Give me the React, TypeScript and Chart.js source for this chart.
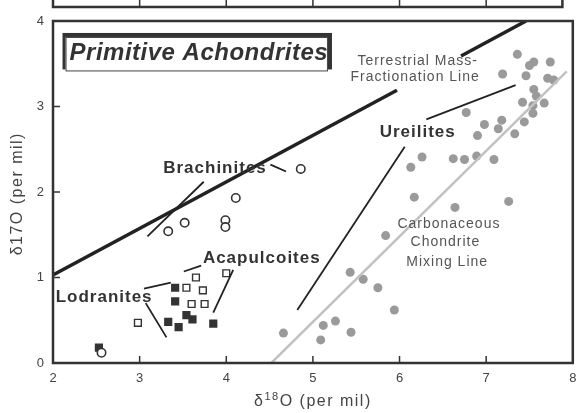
import React, { useEffect, useRef } from 'react';
import { Chart, registerables } from 'chart.js';

Chart.register(...registerables);

// ---------- data ----------
const xTicks = [2, 3, 4, 5, 6, 7, 8];
const yTicks = [0, 1, 2, 3, 4];
const innerXTicks = [3, 4, 5, 6, 7];
const innerYTicks = [1, 2, 3];

const ureilites: [number, number][] = [
  [7.36, 3.61], [7.5, 3.48], [7.55, 3.52], [7.74, 3.52], [7.19, 3.38], [7.46, 3.36],
  [7.71, 3.33], [7.78, 3.31], [7.55, 3.2], [7.58, 3.12], [7.42, 3.05], [7.54, 3.01],
  [7.67, 3.04], [7.54, 2.92], [7.44, 2.82], [7.18, 2.84], [7.14, 2.74], [6.98, 2.79],
  [7.33, 2.68], [6.9, 2.66], [6.77, 2.93], [6.26, 2.41], [6.13, 2.29], [6.62, 2.39],
  [6.75, 2.38], [6.89, 2.42], [7.09, 2.38], [6.17, 1.94], [6.64, 1.82], [7.26, 1.89],
  [5.84, 1.49], [5.43, 1.06], [5.58, 0.98], [5.75, 0.88], [5.94, 0.62], [5.26, 0.49],
  [5.12, 0.44], [5.44, 0.36], [5.09, 0.27], [4.66, 0.35],
];

const brachinites: [number, number][] = [
  [3.33, 1.54], [3.52, 1.64], [3.99, 1.67], [3.99, 1.59], [4.11, 1.93], [4.86, 2.27], [2.56, 0.12],
];

const lodranites: [number, number][] = [
  [3.41, 0.88], [3.41, 0.72], [3.33, 0.48], [3.45, 0.42], [3.54, 0.56], [3.61, 0.51],
  [3.85, 0.46], [2.53, 0.18],
];

const acapulcoites: [number, number][] = [
  [2.98, 0.47], [3.54, 0.88], [3.65, 1.0], [3.73, 0.85], [3.6, 0.69], [3.75, 0.69], [4.0, 1.05],
];

// reference lines (data coordinates)
const tflLower: [number, number][] = [[2, 1.03], [5.97, 3.19]];
const tflUpper: [number, number][] = [[6.71, 3.59], [7.46, 4.0]];
const ccml: [number, number][] = [[4.52, 0], [7.93, 3.41]];

// leader lines
const leaders: [number, number][][] = [
  [[6.31, 2.85], [7.34, 3.25]],
  [[6.06, 2.53], [4.82, 0.62]],
  [[4.51, 2.32], [4.69, 2.24]],
  [[3.74, 2.12], [3.09, 1.48]],
  [[3.05, 0.87], [3.36, 0.94]],
  [[3.07, 0.7], [3.31, 0.3]],
  [[3.51, 1.07], [3.71, 1.14]],
  [[4.08, 1.09], [3.85, 0.59]],
];

// annotation labels [text, x, y]
const boldLabels: [string, number, number][] = [
  ['Ureilites', 6.21, 2.7],
  ['Brachinites', 3.87, 2.28],
  ['Acapulcoites', 4.41, 1.23],
  ['Lodranites', 2.59, 0.77],
];
const lightLabels: [string, number, number][] = [
  ['Terrestrial Mass-', 6.21, 3.53],
  ['Fractionation Line', 6.18, 3.34],
  ['Carbonaceous', 6.57, 1.62],
  ['Chondrite', 6.53, 1.41],
  ['Mixing Line', 6.55, 1.18],
];
const titleText = 'Primitive Achondrites';

const FONT = '"Liberation Sans", Arial, sans-serif';

const toPts = (arr: [number, number][]) => arr.map(([x, y]) => ({ x, y }));

const decorPlugin = {
  id: 'decor',
  afterDatasetsDraw(chart: any) {
    const { ctx, chartArea: a, scales } = chart;
    const xs = scales.x;
    const ys = scales.y;
    ctx.save();

    // frame
    ctx.strokeStyle = '#333';
    ctx.lineWidth = 2.5;
    ctx.strokeRect(a.left, a.top, a.right - a.left, a.bottom - a.top);

    // inner ticks
    ctx.lineWidth = 1.5;
    ctx.beginPath();
    innerXTicks.forEach((v) => {
      const px = xs.getPixelForValue(v);
      ctx.moveTo(px, a.bottom);
      ctx.lineTo(px, a.bottom - 7);
    });
    innerYTicks.forEach((v) => {
      const py = ys.getPixelForValue(v);
      ctx.moveTo(a.left, py);
      ctx.lineTo(a.left + 7, py);
    });
    ctx.stroke();

    // remnant of panel above
    ctx.lineWidth = 2.5;
    const topBottom = 7;
    const rightEdge = xs.getPixelForValue(7.88);
    ctx.beginPath();
    ctx.moveTo(a.left, -2);
    ctx.lineTo(a.left, topBottom);
    ctx.lineTo(rightEdge, topBottom);
    ctx.lineTo(rightEdge, -2);
    ctx.stroke();
    ctx.lineWidth = 1.5;
    ctx.beginPath();
    innerXTicks.forEach((v) => {
      const px = xs.getPixelForValue(v);
      ctx.moveTo(px, -2);
      ctx.lineTo(px, topBottom);
    });
    ctx.stroke();

    // annotation labels
    ctx.textAlign = 'center';
    ctx.textBaseline = 'middle';
    ctx.fillStyle = '#333';
    ctx.font = `bold 17px ${FONT}`;
    ctx.letterSpacing = '1px';
    boldLabels.forEach(([t, x, y]) => {
      ctx.fillText(t, xs.getPixelForValue(x), ys.getPixelForValue(y));
    });
    ctx.fillStyle = '#555';
    ctx.font = `14px ${FONT}`;
    ctx.letterSpacing = '1px';
    lightLabels.forEach(([t, x, y]) => {
      ctx.fillText(t, xs.getPixelForValue(x), ys.getPixelForValue(y));
    });

    // title box
    const bx0 = xs.getPixelForValue(2.11);
    const bx1 = xs.getPixelForValue(5.22);
    const by0 = ys.getPixelForValue(3.86);
    const by1 = ys.getPixelForValue(3.41);
    ctx.letterSpacing = '0px';
    ctx.fillStyle = '#333';
    ctx.fillRect(bx0, by0, bx1 - bx0, by1 - by0 - 2);
    ctx.fillStyle = '#fff';
    ctx.fillRect(bx0 + 3, by0 + 4, bx1 - bx0 - 7, by1 - by0 - 4);
    ctx.strokeStyle = '#444';
    ctx.lineWidth = 1;
    ctx.strokeRect(bx0 + 3.5, by0 + 4.5, bx1 - bx0 - 8, by1 - by0 - 5);
    ctx.fillStyle = '#333';
    ctx.font = `italic bold 24px ${FONT}`;
    ctx.letterSpacing = '0.5px';
    ctx.textAlign = 'left';
    ctx.fillText(titleText, bx0 + 7, (by0 + by1) / 2 + 1);

    // axis titles
    ctx.fillStyle = '#444';
    ctx.textBaseline = 'middle';
    ctx.letterSpacing = '1.5px';
    const cx = xs.getPixelForValue(5);
    const cy = 402;
    ctx.font = `16px ${FONT}`;
    const p1 = 'δ';
    const p2 = '18';
    const p3 = 'O (per mil)';
    const w1 = ctx.measureText(p1).width;
    const w3 = ctx.measureText(p3).width;
    ctx.font = `11px ${FONT}`;
    const w2 = ctx.measureText(p2).width;
    let sx = cx - (w1 + w2 + w3) / 2;
    ctx.font = `16px ${FONT}`;
    ctx.fillText(p1, sx, cy);
    sx += w1;
    ctx.font = `11px ${FONT}`;
    ctx.fillText(p2, sx, cy - 5);
    sx += w2;
    ctx.font = `16px ${FONT}`;
    ctx.fillText(p3, sx, cy);

    ctx.translate(18, ys.getPixelForValue(1.98));
    ctx.rotate(-Math.PI / 2);
    ctx.textAlign = 'center';
    ctx.font = `16px ${FONT}`;
    ctx.fillText('δ17O (per mil)', 0, 0);

    ctx.restore();
  },
};

export default function App() {
  const ref = useRef<HTMLCanvasElement>(null);
  useEffect(() => {
    if (!ref.current) return;
    const lineDs = (pts: [number, number][], color: string, width: number) => ({
      type: 'line' as const,
      data: toPts(pts),
      showLine: true,
      borderColor: color,
      borderWidth: width,
      pointRadius: 0,
      fill: false,
      tension: 0,
    });
    const chart = new Chart(ref.current, {
      type: 'scatter',
      data: {
        datasets: [
          lineDs(ccml, '#c2c2c2', 2.5),
          {
            data: toPts(ureilites),
            pointStyle: 'circle',
            pointRadius: 4.5,
            backgroundColor: '#9a9a9a',
            borderColor: '#9a9a9a',
            borderWidth: 0,
          },
          lineDs(tflLower, '#222', 3.5),
          lineDs(tflUpper, '#222', 3.5),
          ...leaders.map((l) => lineDs(l, '#222', 1.8)),
          {
            data: toPts(brachinites),
            pointStyle: 'circle',
            pointRadius: 4.2,
            backgroundColor: '#fff',
            borderColor: '#333',
            borderWidth: 1.6,
          },
          {
            data: toPts(acapulcoites),
            pointStyle: 'rect',
            pointRadius: 4.8,
            backgroundColor: '#fff',
            borderColor: '#333',
            borderWidth: 1.4,
          },
          {
            data: toPts(lodranites),
            pointStyle: 'rect',
            pointRadius: 5.8,
            backgroundColor: '#333',
            borderColor: '#333',
            borderWidth: 0,
          },
        ] as any,
      },
      options: {
        animation: false,
        responsive: false,
        maintainAspectRatio: false,
        layout: { padding: { top: 21, right: 1, left: 0, bottom: 0 } },
        plugins: { legend: { display: false }, tooltip: { enabled: false } },
        scales: {
          x: {
            type: 'linear',
            min: 2,
            max: 8,
            afterBuildTicks: (s: any) => {
              s.ticks = xTicks.map((v) => ({ value: v }));
            },
            afterFit: (s: any) => {
              s.height = 50;
              s.paddingLeft = 0;
              s.paddingRight = 0;
            },
            grid: { display: false, drawTicks: false },
            border: { display: false },
            ticks: {
              padding: 8,
              color: '#444',
              font: { size: 13, family: FONT },
              maxRotation: 0,
              autoSkip: false,
            },
          },
          y: {
            type: 'linear',
            min: 0,
            max: 4,
            afterBuildTicks: (s: any) => {
              s.ticks = yTicks.map((v) => ({ value: v }));
            },
            afterFit: (s: any) => {
              s.width = 53;
              s.paddingTop = 0;
              s.paddingBottom = 0;
            },
            grid: { display: false, drawTicks: false },
            border: { display: false },
            ticks: {
              padding: 9,
              color: '#444',
              font: { size: 13, family: FONT },
              autoSkip: false,
            },
          },
        },
      },
      plugins: [decorPlugin],
    });
    return () => chart.destroy();
  }, []);
  return (
    <div style={{ position: 'fixed', left: 0, top: 0, width: 579, height: 413, background: '#fff' }}>
      <canvas ref={ref} width={579} height={413} style={{ width: 579, height: 413 }} />
    </div>
  );
}
